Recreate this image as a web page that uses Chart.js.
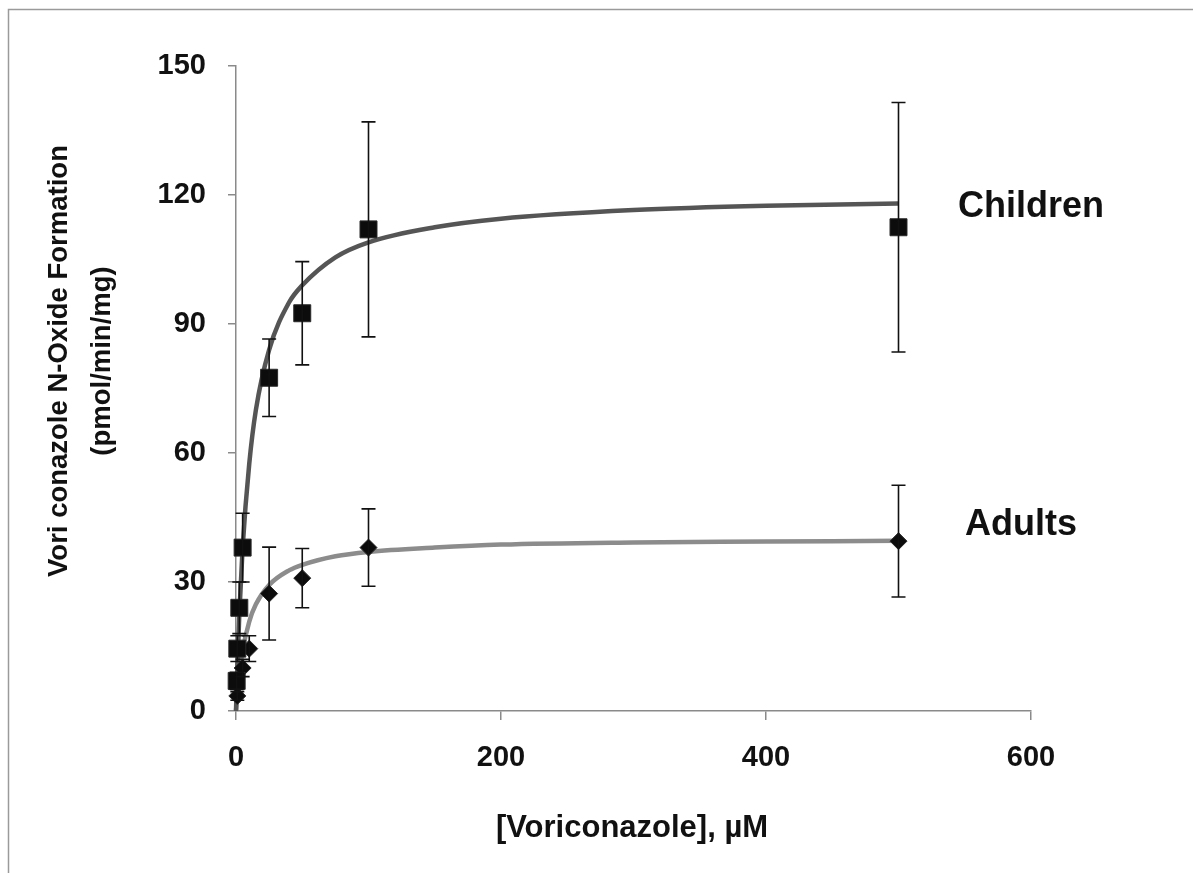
<!DOCTYPE html>
<html>
<head>
<meta charset="utf-8">
<script src="https://cdn.jsdelivr.net/npm/chart.js@4"></script>
<style>
html,body{margin:0;padding:0;background:#fff;}
#wrap{width:1193px;height:873px;position:relative;}
</style>
</head>
<body>
<div id="wrap"><canvas id="c" width="1193" height="873"></canvas></div>
<script>
// ---- data ----
const xTicks = [0, 200, 400, 600];
const yTicks = [0, 30, 60, 90, 120, 150];

const childrenX   = [0.5, 1, 2.5, 5, 25, 50, 100, 500];
const childrenY   = [7, 14.5, 24, 38, 77.5, 92.5, 112, 112.5];
const childrenErr = [2, 3, 6, 8, 9, 12, 25, 29];

const adultsX   = [1, 5, 10, 25, 50, 100, 500];
const adultsY   = [3.5, 10, 14.5, 27.3, 30.9, 38, 39.5];
const adultsErr = [1, 2, 3, 10.8, 6.9, 9, 13];

// fitted curves
const childrenFitX = [0, 1, 2.5, 5, 10, 15, 25, 40, 50, 75, 100, 150, 200, 300, 400, 500];
const childrenFitY = [0, 10, 22.5, 38, 57.5, 70, 84, 95, 99, 105.5, 109, 112.5, 114.5, 116.5, 117.5, 118];
const adultsFitX = [0, 1, 2.5, 5, 10, 15, 25, 40, 50, 75, 100, 150, 200, 300, 400, 500];
const adultsFitY = [0, 3.9, 8.4, 14, 20.8, 24.8, 29.3, 32.7, 34, 36, 37, 38, 38.7, 39.2, 39.4, 39.6];

const seriesLabels = ['Children', 'Adults'];
const xTitle = '[Voriconazole], µM';
const yTitle = ['Vori conazole N-Oxide Formation', '(pmol/min/mg)'];

const pts = (xs, ys) => xs.map((x, i) => ({x: x, y: ys[i]}));

const FONT = '"Liberation Sans", Arial, sans-serif';

const errorBarPlugin = {
  id: 'errorBars',
  afterDatasetsDraw(chart) {
    const ctx = chart.ctx;
    const xs = chart.scales.x, ys = chart.scales.y;
    const sets = [[childrenX, childrenY, childrenErr], [adultsX, adultsY, adultsErr]];
    ctx.save();
    ctx.strokeStyle = '#111';
    ctx.lineWidth = 1.6;
    sets.forEach(([X, Y, E]) => {
      X.forEach((x, i) => {
        const px = xs.getPixelForValue(x);
        const top = ys.getPixelForValue(Y[i] + E[i]);
        const bot = ys.getPixelForValue(Y[i] - E[i]);
        ctx.beginPath();
        ctx.moveTo(px, top); ctx.lineTo(px, bot);
        ctx.moveTo(px - 7, top); ctx.lineTo(px + 7, top);
        ctx.moveTo(px - 7, bot); ctx.lineTo(px + 7, bot);
        ctx.stroke();
      });
    });
    ctx.restore();
  }
};

const textPlugin = {
  id: 'texts',
  afterDraw(chart) {
    const ctx = chart.ctx;
    ctx.save();
    // outer frame (left and top)
    ctx.strokeStyle = '#9a9a9a';
    ctx.lineWidth = 1.5;
    ctx.beginPath();
    ctx.moveTo(8.5, 873); ctx.lineTo(8.5, 9.5); ctx.lineTo(1193, 9.5);
    ctx.stroke();

    ctx.fillStyle = '#111';
    // series labels
    ctx.font = 'bold 36px ' + FONT;
    ctx.textAlign = 'left';
    ctx.textBaseline = 'alphabetic';
    ctx.fillText(seriesLabels[0], 958, 217);
    ctx.fillText(seriesLabels[1], 965, 535);

    // x title
    ctx.font = 'bold 31px ' + FONT;
    ctx.textAlign = 'center';
    ctx.textBaseline = 'middle';
    ctx.fillText(xTitle, 632, 828);

    // y title
    ctx.font = 'bold 27.5px ' + FONT;
    ctx.translate(0, 361);
    ctx.rotate(-Math.PI / 2);
    ctx.fillText(yTitle[0], 0, 59);
    ctx.fillText(yTitle[1], 0, 102);
    ctx.restore();
  }
};

new Chart(document.getElementById('c'), {
  type: 'scatter',
  data: {
    datasets: [
      {
        label: 'Children',
        data: pts(childrenX, childrenY),
        pointStyle: 'rect',
        pointRadius: 12,
        backgroundColor: '#0c0c0c',
        borderColor: '#2a2a2a',
        borderWidth: 1,
        clip: false
      },
      {
        label: 'Adults',
        data: pts(adultsX, adultsY),
        pointStyle: 'rectRot',
        pointRadius: 8.5,
        backgroundColor: '#0c0c0c',
        borderColor: '#2a2a2a',
        borderWidth: 1,
        clip: false
      },
      {
        label: 'Children fit',
        data: pts(childrenFitX, childrenFitY),
        showLine: true,
        pointRadius: 0,
        borderColor: '#555555',
        borderWidth: 4.5,
        cubicInterpolationMode: 'monotone',
        clip: false
      },
      {
        label: 'Adults fit',
        data: pts(adultsFitX, adultsFitY),
        showLine: true,
        pointRadius: 0,
        borderColor: '#8c8c8c',
        borderWidth: 4.5,
        cubicInterpolationMode: 'monotone',
        clip: false
      }
    ]
  },
  options: {
    responsive: false,
    animation: false,
    events: [],
    layout: { padding: { left: 0, top: 66, right: 162, bottom: 0 } },
    plugins: { legend: { display: false }, tooltip: { enabled: false }, title: { display: false } },
    scales: {
      x: {
        type: 'linear',
        min: xTicks[0],
        max: xTicks[xTicks.length - 1],
        afterBuildTicks: (s) => { s.ticks = xTicks.map(v => ({value: v})); },
        afterFit: (s) => { s.height = 162; },
        grid: { drawOnChartArea: false, drawTicks: true, tickLength: 9, color: '#8a8a8a', lineWidth: 1.5 },
        border: { display: true, color: '#8a8a8a', width: 1.5 },
        ticks: { color: '#111', padding: 21, font: { family: FONT, size: 29, weight: 'bold' } },
        title: { display: false }
      },
      y: {
        type: 'linear',
        min: yTicks[0],
        max: yTicks[yTicks.length - 1],
        afterBuildTicks: (s) => { s.ticks = yTicks.map(v => ({value: v})); },
        afterFit: (s) => { s.width = 236; },
        grid: { drawOnChartArea: false, drawTicks: true, tickLength: 8, color: '#8a8a8a', lineWidth: 1.5 },
        border: { display: true, color: '#8a8a8a', width: 1.5 },
        ticks: { color: '#111', padding: 22, font: { family: FONT, size: 29, weight: 'bold' } },
        title: { display: false }
      }
    }
  },
  plugins: [errorBarPlugin, textPlugin]
});
</script>
</body>
</html>
